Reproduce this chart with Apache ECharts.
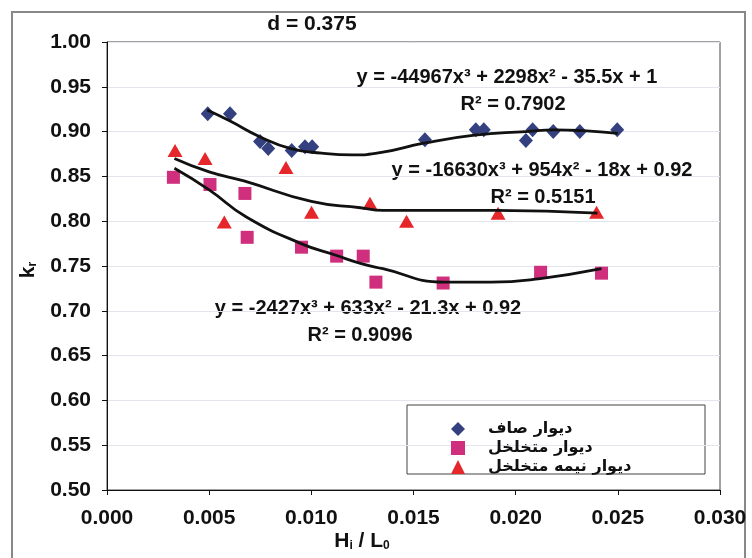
<!DOCTYPE html>
<html><head><meta charset="utf-8">
<script src="https://cdn.jsdelivr.net/npm/echarts@6/dist/echarts.min.js"></script>
<style>html,body{margin:0;padding:0;background:#fff}#c{width:752px;height:558px}</style>
</head><body><div id="c"></div>
<script>
// ---- data ----
const seriesNames = ['دیوار صاف', 'دیوار متخلخل', 'دیوار نیمه متخلخل'];

const flatX = [0.00493, 0.00602, 0.00749, 0.00789, 0.00904, 0.00969, 0.01004, 0.01556, 0.01805, 0.01844, 0.0205, 0.02083, 0.02184, 0.02314, 0.02497];
const flatY = [0.920, 0.920, 0.889, 0.881, 0.879, 0.883, 0.883, 0.891, 0.902, 0.902, 0.890, 0.902, 0.900, 0.900, 0.902];

const porousX = [0.00325, 0.00504, 0.00675, 0.00686, 0.00952, 0.01124, 0.01254, 0.01316, 0.01645, 0.02122, 0.0242];
const porousY = [0.849, 0.841, 0.831, 0.782, 0.771, 0.761, 0.761, 0.732, 0.731, 0.743, 0.742];

const semiX = [0.00333, 0.0048, 0.00574, 0.00876, 0.01001, 0.01287, 0.01466, 0.01914, 0.02396];
const semiY = [0.879, 0.870, 0.799, 0.860, 0.810, 0.820, 0.800, 0.809, 0.810];

// trend curves
const flatTrendX = [0.0049, 0.0060, 0.0075, 0.0090, 0.0105, 0.0120, 0.0135, 0.0155, 0.0180, 0.0205, 0.0219, 0.0233, 0.0250];
const flatTrendY = [0.924, 0.912, 0.894, 0.881, 0.876, 0.874, 0.877, 0.887, 0.896, 0.900, 0.902, 0.901, 0.898];

const porousTrendX = [0.0033, 0.0050, 0.0068, 0.0095, 0.0112, 0.0124, 0.0135, 0.0165, 0.0188, 0.0212, 0.0242];
const porousTrendY = [0.859, 0.835, 0.805, 0.775, 0.762, 0.753, 0.747, 0.732, 0.732, 0.736, 0.747];

const semiTrendX = [0.0033, 0.0050, 0.0067, 0.0100, 0.0124, 0.0135, 0.0190, 0.0240];
const semiTrendY = [0.870, 0.855, 0.845, 0.822, 0.815, 0.812, 0.812, 0.809];

const xTickLabels = ['0.000', '0.005', '0.010', '0.015', '0.020', '0.025', '0.030'];
const yTickLabels = ['0.50', '0.55', '0.60', '0.65', '0.70', '0.75', '0.80', '0.85', '0.90', '0.95', '1.00'];

const titleText = 'd = 0.375';
const eqTexts = [
  'y = -44967x³ + 2298x² - 35.5x + 1', 'R² = 0.7902',
  'y = -16630x³ + 954x² - 18x + 0.92', 'R² = 0.5151',
  'y = -2427x³ + 633x² - 21.3x + 0.92', 'R² = 0.9096'
];

// ---- chart ----
const zip = (xs, ys) => xs.map((x, i) => [x, ys[i]]);
const FONT = 'Liberation Sans, Arial, sans-serif';
const chart = echarts.init(document.getElementById('c'));

const eqStyle = { fontFamily: FONT, fontWeight: 'bold', fontSize: 20, fill: '#111', textAlign: 'center', textVerticalAlign: 'middle' };
const subRich = {
  a: { fontFamily: FONT, fontWeight: 'bold', fontSize: 21, fill: '#111' },
  b: { fontFamily: FONT, fontWeight: 'bold', fontSize: 12, fill: '#111', padding: [10, 0, 0, 0] }
};

chart.setOption({
  animation: false,
  backgroundColor: '#fff',
  grid: { left: 107, right: 32, top: 42, bottom: 68, show: true, borderColor: '#444', borderWidth: 1 },
  xAxis: {
    type: 'value', min: 0, max: 0.03, interval: 0.005,
    axisLine: { show: true, onZero: false, lineStyle: { color: '#111', width: 1 } },
    axisTick: { show: true, inside: false, length: 5, lineStyle: { color: '#111' } },
    axisLabel: { margin: 18, color: '#111', fontFamily: FONT, fontWeight: 'bold', fontSize: 21,
      formatter: v => xTickLabels[Math.round(v / 0.005)] },
    splitLine: { show: false }
  },
  yAxis: {
    type: 'value', min: 0.5, max: 1.0, interval: 0.05,
    axisLine: { show: true, onZero: false, lineStyle: { color: '#111', width: 1 } },
    axisTick: { show: true, inside: false, length: 5, lineStyle: { color: '#111' } },
    axisLabel: { margin: 16, color: '#111', fontFamily: FONT, fontWeight: 'bold', fontSize: 21,
      formatter: v => yTickLabels[Math.round((v - 0.5) / 0.05)] },
    splitLine: { show: true, lineStyle: { color: '#e2e5ec', width: 1 } }
  },
  legend: {
    orient: 'vertical', left: 446, top: 415,
    itemWidth: 14, itemHeight: 14, itemGap: 1,
    data: seriesNames,
    textStyle: { fontFamily: 'DejaVu Sans', fontWeight: 'bold', fontSize: 16, color: '#111', lineHeight: 18, padding: [0, 0, 0, 18] }
  },
  series: [
    { type: 'line', data: zip(flatTrendX, flatTrendY), smooth: true, symbol: 'none', lineStyle: { color: '#111', width: 2.8 }, z: 3, silent: true },
    { type: 'line', data: zip(porousTrendX, porousTrendY), smooth: true, symbol: 'none', lineStyle: { color: '#111', width: 2.8 }, z: 3, silent: true },
    { type: 'line', data: zip(semiTrendX, semiTrendY), smooth: true, symbol: 'none', lineStyle: { color: '#111', width: 2.8 }, z: 3, silent: true },
    { name: seriesNames[0], type: 'scatter', data: zip(flatX, flatY), symbol: 'diamond', symbolSize: [14, 15], itemStyle: { color: '#34407f', opacity: 1 }, z: 2 },
    { name: seriesNames[1], type: 'scatter', data: zip(porousX, porousY), symbol: 'rect', symbolSize: 13, itemStyle: { color: '#cf2f7d', opacity: 1 }, z: 2 },
    { name: seriesNames[2], type: 'scatter', data: zip(semiX, semiY), symbol: 'triangle', symbolSize: [15, 13], itemStyle: { color: '#e5262b', opacity: 1 }, z: 2 }
  ],
  graphic: [
    { type: 'rect', shape: { x: 12, y: 12, width: 733, height: 560 }, style: { fill: 'none', stroke: '#888', lineWidth: 2 }, z: -1 },
    { type: 'rect', shape: { x: 407, y: 405, width: 298, height: 69 }, style: { fill: '#fff', stroke: '#444', lineWidth: 1 }, z: 0 },
    { type: 'text', x: 312, y: 24, style: Object.assign({}, eqStyle, { text: titleText, fontSize: 21 }) },
    { type: 'text', x: 507, y: 77, style: Object.assign({}, eqStyle, { text: eqTexts[0] }) },
    { type: 'text', x: 513, y: 104, style: Object.assign({}, eqStyle, { text: eqTexts[1] }) },
    { type: 'text', x: 542, y: 170, style: Object.assign({}, eqStyle, { text: eqTexts[2] }) },
    { type: 'text', x: 543, y: 197, style: Object.assign({}, eqStyle, { text: eqTexts[3] }) },
    { type: 'text', x: 368, y: 308, style: Object.assign({}, eqStyle, { text: eqTexts[4] }) },
    { type: 'text', x: 360, y: 335, style: Object.assign({}, eqStyle, { text: eqTexts[5] }) },
    { type: 'text', x: 28, y: 270, rotation: Math.PI / 2,
      style: { text: '{a|k}{b|r}', rich: subRich, textAlign: 'center', textVerticalAlign: 'middle' } },
    { type: 'text', x: 362, y: 541,
      style: { text: '{a|H}{b|i}{a| / L}{b|0}', rich: subRich, textAlign: 'center', textVerticalAlign: 'middle' } }
  ]
});
</script></body></html>
